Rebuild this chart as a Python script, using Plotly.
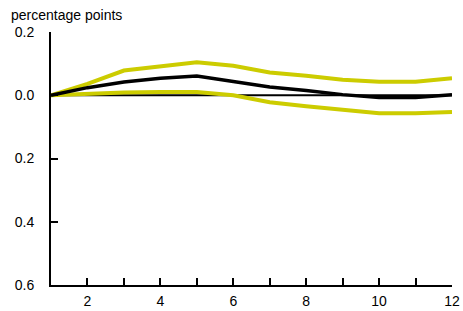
import plotly.graph_objects as go

months = [1, 2, 3, 4, 5, 6, 7, 8, 9, 10, 11, 12]
upper = [0.0, 0.036, 0.078, 0.092, 0.104, 0.093, 0.072, 0.062, 0.049, 0.043, 0.043, 0.054]
median = [0.0, 0.024, 0.042, 0.054, 0.061, 0.044, 0.026, 0.015, 0.002, -0.007, -0.007, 0.002]
lower = [0.0, 0.005, 0.009, 0.010, 0.010, 0.0, -0.022, -0.035, -0.047, -0.057, -0.057, -0.053]

y_tickvals = [0.2, 0.0, -0.2, -0.4, -0.6]
y_ticktext = ["0.2", "0.0", "0.2", "0.4", "0.6"]
x_tickvals = months
x_ticktext = [str(m) if m % 2 == 0 else "" for m in months]

YELLOW = "#cccc00"
fig = go.Figure()
fig.add_trace(go.Scatter(x=[1, 12], y=[0, 0], mode="lines",
                         line=dict(color="black", width=2), hoverinfo="skip"))
fig.add_trace(go.Scatter(x=months, y=upper, mode="lines", line=dict(color=YELLOW, width=4)))
fig.add_trace(go.Scatter(x=months, y=lower, mode="lines", line=dict(color=YELLOW, width=4)))
fig.add_trace(go.Scatter(x=months, y=median, mode="lines", line=dict(color="black", width=3.5)))

font = dict(family="Liberation Sans, Arial, sans-serif", size=14, color="black")
fig.update_layout(
    template="none",
    width=463, height=311,
    margin=dict(l=51, r=11, t=32, b=26, autoexpand=False),
    paper_bgcolor="white", plot_bgcolor="white",
    showlegend=False, font=font,
    xaxis=dict(range=[1, 12], tickvals=x_tickvals, ticktext=x_ticktext,
               ticks="inside", ticklen=7, tickwidth=2, tickcolor="black",
               showline=True, linecolor="black", linewidth=2, automargin=False,
               showgrid=False, zeroline=False, tickfont=font, ticklabelstandoff=2),
    yaxis=dict(range=[-0.6, 0.2], tickvals=y_tickvals, ticktext=y_ticktext,
               ticks="inside", ticklen=7, tickwidth=2, tickcolor="black",
               showline=True, linecolor="black", linewidth=2, automargin=False,
               showgrid=False, zeroline=False, tickfont=font, ticklabelstandoff=12),
    annotations=[dict(text="percentage points", x=0, y=1, xref="paper", yref="paper",
                      xshift=-42, yshift=17, showarrow=False, xanchor="left",
                      yanchor="middle", font=font)],
)
fig.write_html(
    "out.html",
    config={"displayModeBar": False, "staticPlot": True},
    post_script="document.body.style.margin='0';document.body.style.overflow='hidden';",
)
